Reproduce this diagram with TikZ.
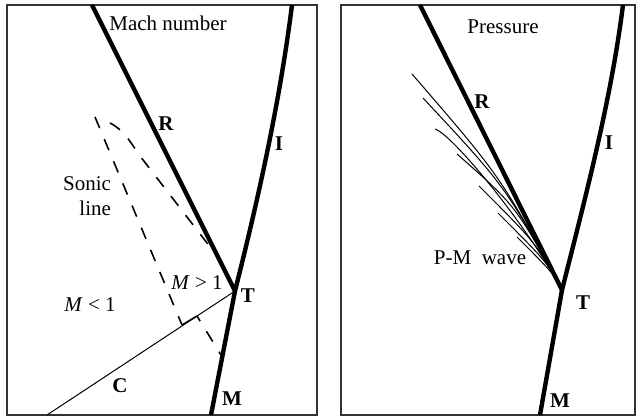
\documentclass[tikz,border=0pt]{standalone}
\usepackage{fontspec}
\setmainfont{Liberation Serif}

\begin{document}
\begin{tikzpicture}[x=0.5pt, y=-0.5pt,
    shock/.style={line width=2.2pt},
    slipline/.style={line width=0.5pt},
    sonic/.style={line width=0.8pt, dash pattern=on 6pt off 6pt},
    panelbox/.style={draw=black!80, line width=0.6pt},
    txt/.style={font=\fontsize{10.5}{12.5}\selectfont},
    lbl/.style={font=\fontsize{10.5}{12}\selectfont\bfseries}]
    \useasboundingbox (0,0) rectangle (638,417);

    % left panel: Mach number
    \draw[panelbox] (7,5) rectangle (317,415);
    \coordinate (RL) at (92,5);
    \coordinate (TL) at (235,291);
    \coordinate (IL) at (292,5);
    \coordinate (ML) at (211,415);
    \coordinate (CL) at (47,415);
    \draw[shock] (RL) -- (TL);
    \draw[shock] (ML) -- (TL) .. controls (259,196) and (280,100) .. (IL);
    \draw[slipline] (CL) -- (TL);

    \coordinate (SA) at (95,117);
    \coordinate (SB) at (182,325);
    \coordinate (SC) at (197,316);
    \coordinate (SD) at (221,355);
    \draw[sonic] (SA) -- (SB);
    \draw[line width=0.8pt] (SB) -- (SC);
    \draw[sonic, dash phase=3pt] (SC) -- (SD);
    \coordinate (DA) at (110,123);
    \coordinate (DB) at (140,156);
    \coordinate (DC) at (214,252);
    \draw[sonic] (DA) .. controls (124,130) and (131,143) .. (DB) -- (DC);

    \node[txt] (machtitle) at (168,23) {Mach number};
    \node[txt, align=right, anchor=east] (soniclbl) at (118,196) {Sonic\\line};
    \node[txt] (msuper) at (197,283) {\textit{M} > 1};
    \node[txt] (msub) at (90,305) {\textit{M} < 1};
    \node[lbl] (RLlbl) at (166,124) {R};
    \node[lbl] (ILlbl) at (279,144) {I};
    \node[lbl] (TLlbl) at (248,296) {T};
    \node[lbl] (MLlbl) at (232,399) {M};
    \node[lbl] (CLlbl) at (120,386) {C};

    % right panel: Pressure
    \draw[panelbox] (341,5) rectangle (635,415);
    \coordinate (RR) at (420,5);
    \coordinate (TR) at (562,290);
    \coordinate (IR) at (623,5);
    \coordinate (MR) at (540,415);
    \draw[shock] (RR) -- (TR);
    \draw[shock] (MR) -- (TR) .. controls (586,195) and (611,100) .. (IR);

    \foreach \sx/\sy/\cx/\cy [count=\i] in
        {412/74/501/177, 423/98/506/187, 457/154/516/206,
         479/186/537/244, 498/213/547/262, 517/237/553/273} {
      \coordinate (W\i) at (\sx,\sy);
      \draw[slipline] (W\i) .. controls (\cx,\cy) .. (TR);
    }
    \coordinate (Whook) at (435,129);
    \draw[slipline] (Whook) .. controls (452,134) and (527,225) .. (TR);

    \node[txt] (prestitle) at (503,27) {Pressure};
    \node[txt] (pmwave) at (480,258) {P-M\ \ wave};
    \node[lbl] (RRlbl) at (482,102) {R};
    \node[lbl] (IRlbl) at (609,143) {I};
    \node[lbl] (TRlbl) at (583,303) {T};
    \node[lbl] (MRlbl) at (560,401) {M};
\end{tikzpicture}
\end{document}
